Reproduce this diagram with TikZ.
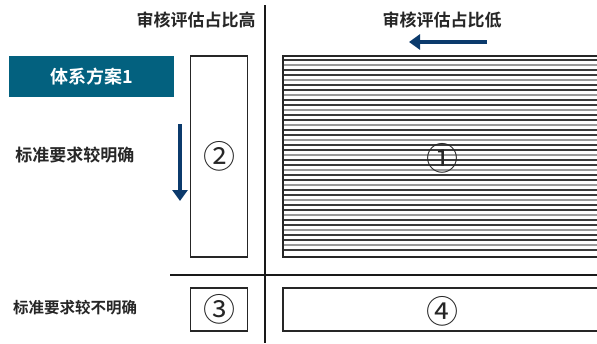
\documentclass[tikz,border=0pt]{standalone}
\usepackage{fontspec}
\newfontfamily\cjk{Noto Sans CJK SC}[BoldFont={Noto Sans CJK SC Bold}]
\usetikzlibrary{arrows.meta}
\definecolor{labelblue}{HTML}{03617F}
\definecolor{arrowblue}{HTML}{0B3A6C}
\definecolor{stripeA}{HTML}{3A3A3A}
\definecolor{stripeB}{HTML}{9A9A9A}
\tikzset{
  frame/.style={draw=black!85, line width=1.2pt},
  axis/.style={draw=black!90, line width=1.8pt},
  head/.style={font=\cjk\bfseries\fontsize{17}{17}\selectfont, text=black!85, inner sep=0pt},
  sidetext/.style={font=\cjk\bfseries\fontsize{17}{17}\selectfont, text=black!85, inner sep=0pt},
  circnum/.style={font=\cjk\fontsize{32}{32}\selectfont, text=black!85, inner sep=0pt},
  dirarrow/.style={draw=arrowblue, line width=4.5pt, -{Triangle[width=15pt,length=11pt]}},
}
\begin{document}
\begin{tikzpicture}[x=1pt,y=-1pt]
\useasboundingbox (0,0) rectangle (597,343);
% axes
\coordinate (vt) at (265,5);
\coordinate (vb) at (265,343);
\coordinate (hl) at (170,275);
\coordinate (hr) at (597,275);
\draw[axis] (vt) -- (vb);
\draw[axis] (hl) -- (hr);
% box 1 stripes
\foreach \i in {0,...,38}{
  \pgfmathtruncatemacro{\m}{mod(\i,3)}
  \ifnum\m=1
    \draw[stripeB, line width=1.1pt] (283,60+5*\i) -- (597,60+5*\i);
  \else
    \draw[stripeA, line width=1.1pt] (283,60+5*\i) -- (597,60+5*\i);
  \fi
}
\draw[frame] (597,56) -- (283,56) -- (283,257) -- (597,257);
\node[circnum] (n1) at (442,158) {①};
% box 2
\node[frame, minimum width=57pt, minimum height=201pt, inner sep=0pt] (b2) at (219,156.5) {};
\node[circnum] (n2) at (b2.center) {②};
% box 3
\node[frame, minimum width=57pt, minimum height=43pt, inner sep=0pt] (b3) at (219,309.5) {};
\node[circnum] (n3) at (b3.center) {③};
% box 4
\draw[frame] (597,288) -- (283,288) -- (283,331) -- (597,331);
\node[circnum] (n4) at (442,311) {④};
% headings
\node[head] (h1) at (196,20) {审核评估占比高};
\node[head] (h2) at (442,20) {审核评估占比低};
% label
\node[fill=labelblue, minimum width=165pt, minimum height=41pt, inner sep=0pt,
      font=\cjk\bfseries\fontsize{18}{18}\selectfont, text=white] (lab) at (91.5,76.5) {体系方案1};
% side texts
\node[sidetext] (s1) at (75,155) {标准要求较明确};
\node[sidetext, font=\cjk\bfseries\fontsize{15.5}{15.5}\selectfont] (s2) at (75,308) {标准要求较不明确};
% arrows
\coordinate (ah1) at (487,42);
\coordinate (ah2) at (409,42);
\draw[dirarrow] (ah1) -- (ah2);
\coordinate (av1) at (180,124);
\coordinate (av2) at (180,201);
\draw[dirarrow] (av1) -- (av2);
\end{tikzpicture}
\end{document}
